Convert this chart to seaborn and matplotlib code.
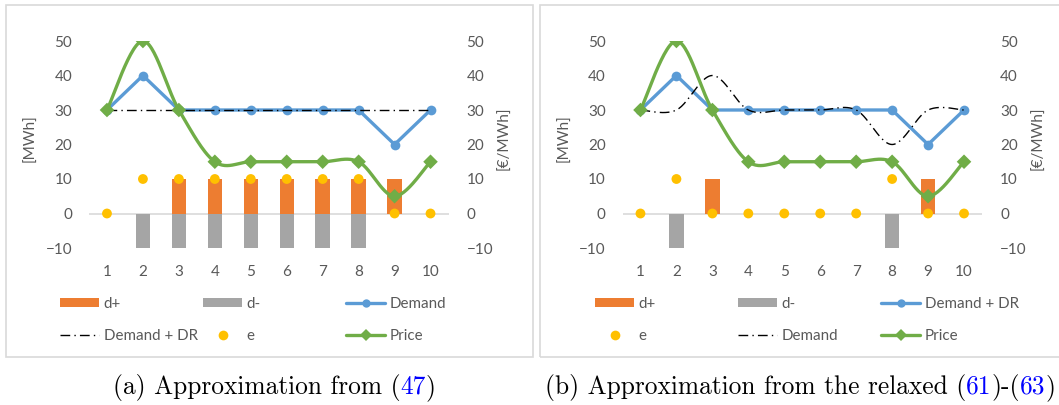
import numpy as np
import matplotlib
matplotlib.use("Agg")
import matplotlib.pyplot as plt
import seaborn as sns
from matplotlib.patches import Rectangle, Patch
from matplotlib.lines import Line2D

# ---------------- data ----------------
hours = [1, 2, 3, 4, 5, 6, 7, 8, 9, 10]

a_dplus = [0, 0, 10, 10, 10, 10, 10, 10, 10, 0]
a_dminus = [0, -10, -10, -10, -10, -10, -10, -10, 0, 0]
a_demand = [30, 40, 30, 30, 30, 30, 30, 30, 20, 30]
a_demand_dr = [30, 30, 30, 30, 30, 30, 30, 30, 30, 30]
a_e = [0, 10, 10, 10, 10, 10, 10, 10, 0, 0]
a_price = [30, 50, 30, 15, 15, 15, 15, 15, 5, 15]

b_dplus = [0, 0, 10, 0, 0, 0, 0, 0, 10, 0]
b_dminus = [0, -10, 0, 0, 0, 0, 0, -10, 0, 0]
b_demand_dr = [30, 40, 30, 30, 30, 30, 30, 30, 20, 30]
b_demand = [30, 30, 40, 30, 30, 30, 30, 20, 30, 30]
b_e = [0, 10, 0, 0, 0, 0, 0, 10, 0, 0]
b_price = [30, 50, 30, 15, 15, 15, 15, 15, 5, 15]

y_ticks = [-10, 0, 10, 20, 30, 40, 50]
captions = [("(a) Approximation from (", "47", ")", None, None),
            ("(b) Approximation from the relaxed (", "61", ")-(", "63", ")")]

# ---------------- style ----------------
sns.set_theme(style="white")
plt.rcParams['font.family'] = ['Lato', 'DejaVu Sans']

C_ORANGE = "#ED7D31"
C_GRAY = "#A5A5A5"
C_BLUE = "#5B9BD5"
C_GOLD = "#FFC000"
C_GREEN = "#70AD47"
C_TEXT = "#595959"
DASHDOT = (0, (7, 3, 1, 3))

W, H = 1059, 405
fig = plt.figure(figsize=(W / 100, H / 100), dpi=100)


def smooth(xs, ys, n=30):
    """Excel-like smoothed line (Catmull-Rom Bezier) through the data points."""
    P = np.column_stack([xs, ys]).astype(float)
    Pe = np.vstack([P[0], P, P[-1]])
    out = []
    for i in range(len(P) - 1):
        p0, p1, p2, p3 = Pe[i], Pe[i + 1], Pe[i + 2], Pe[i + 3]
        c1 = p1 + (p2 - p0) / 6.0
        c2 = p2 - (p3 - p1) / 6.0
        t = np.linspace(0, 1, n)[:, None]
        seg = ((1 - t) ** 3) * p1 + 3 * ((1 - t) ** 2) * t * c1 + 3 * (1 - t) * t ** 2 * c2 + t ** 3 * p2
        out.append(seg if i == 0 else seg[1:])
    seg = np.vstack(out)
    return seg[:, 0], seg[:, 1]


def px_rect(x0, y0, x1, y1):
    return [x0 / W, 1 - y1 / H, (x1 - x0) / W, (y1 - y0) / H]


def panel(ax_left_px, dplus, dminus, blue, black, black_smooth, e, price, labels, leg_x0):
    ax = fig.add_axes(px_rect(ax_left_px, 41, ax_left_px + 359.5, 248))
    sns.barplot(x=hours, y=dplus, native_scale=True, width=0.4, color=C_ORANGE,
                saturation=1, ax=ax, zorder=2, edgecolor="none")
    sns.barplot(x=hours, y=dminus, native_scale=True, width=0.4, color=C_GRAY,
                saturation=1, ax=ax, zorder=2, edgecolor="none")
    ax.axhline(0, color="#D9D9D9", lw=1.2, zorder=1)
    sns.lineplot(x=hours, y=blue, color=C_BLUE, lw=2.4, marker="o", markersize=7,
                 markeredgewidth=0, ax=ax, zorder=3)
    if black_smooth:
        sx, sy = smooth(hours, black)
        ax.plot(sx, sy, color="black", lw=1.0, linestyle=DASHDOT, zorder=4)
    else:
        sns.lineplot(x=hours, y=black, color="black", lw=1.0, linestyle=DASHDOT, ax=ax, zorder=4)
    sns.scatterplot(x=hours, y=e, color=C_GOLD, s=50, edgecolor="none", ax=ax, zorder=5)
    ax.set_xlim(0.5, 10.5)
    ax.set_ylim(-10, 50)
    ax.set_xticks(hours)
    ax.set_yticks(y_ticks)
    ax.tick_params(axis="both", length=0, labelsize=11, colors=C_TEXT, pad=12)
    for s in ax.spines.values():
        s.set_visible(False)
    ax.set_ylabel("[MWh]", fontsize=11, color=C_TEXT)
    ax.yaxis.set_label_coords(-51 / 359.5, 0.53)

    ax2 = ax.twinx()
    sx, sy = smooth(hours, price)
    ax2.plot(sx, sy, color=C_GREEN, lw=2.4, zorder=6)
    sns.scatterplot(x=hours, y=price, color=C_GREEN, marker="D", s=55, edgecolor="none",
                    ax=ax2, zorder=7)
    ax2.set_ylim(-10, 50)
    ax2.set_yticks(y_ticks)
    ax2.tick_params(axis="y", length=0, labelsize=11, colors=C_TEXT, pad=13)
    for s in ax2.spines.values():
        s.set_visible(False)
    ax2.set_ylabel("[€/MWh]", fontsize=11, color=C_TEXT)
    ax2.yaxis.set_label_coords(1 + 49 / 359.5, 0.53)
    ax2.grid(False)
    ax.grid(False)

    # legend: three columns, two rows
    handles = {
        "d+": Patch(facecolor=C_ORANGE, edgecolor="none"),
        "d-": Patch(facecolor=C_GRAY, edgecolor="none"),
        "blue": Line2D([], [], color=C_BLUE, lw=2.4, marker="o", markersize=6, markeredgewidth=0),
        "black": Line2D([], [], color="black", lw=1.0, linestyle=DASHDOT),
        "e": Line2D([], [], color=C_GOLD, lw=0, marker="o", markersize=7, markeredgewidth=0),
        "price": Line2D([], [], color=C_GREEN, lw=2.4, marker="D", markersize=6, markeredgewidth=0),
    }
    for ci, col in enumerate(labels):
        hs = [handles[k] for k, _ in col]
        ls = [t for _, t in col]
        fig.legend(hs, ls, loc="upper left",
                   bbox_to_anchor=((leg_x0 + 143 * ci) / W, 1 - 297 / H),
                   frameon=False, fontsize=10.9, labelcolor=C_TEXT,
                   handlelength=2.6, handleheight=0.6, handletextpad=0.28,
                   labelspacing=1.2, borderpad=0, borderaxespad=0)
    return ax


# panel frames
fig.patches.append(Rectangle((6 / W, 1 - 357 / H), (533 - 6) / W, (357 - 5) / H,
                             transform=fig.transFigure, fill=False, edgecolor="#D9D9D9", lw=1.2))
fig.patches.append(Rectangle((540 / W, 1 - 357 / H), (1065 - 540) / W, (357 - 5) / H,
                             transform=fig.transFigure, fill=False, edgecolor="#D9D9D9", lw=1.2))

panel(89, a_dplus, a_dminus, a_demand, a_demand_dr, False, a_e, a_price,
      [[("d+", "d+"), ("black", "Demand + DR")],
       [("d-", "d-"), ("e", "e")],
       [("blue", "Demand"), ("price", "Price")]], 60)
panel(622.5, b_dplus, b_dminus, b_demand_dr, b_demand, True, b_e, b_price,
      [[("d+", "d+"), ("e", "e")],
       [("d-", "d-"), ("black", "Demand")],
       [("blue", "Demand + DR"), ("price", "Price")]], 595)

# captions with blue references
fig.canvas.draw()
renderer = fig.canvas.get_renderer()
cap_x = [113, 545]
for cx, parts in zip(cap_x, captions):
    x = cx
    for i, p in enumerate(parts):
        if p is None:
            continue
        col = "#0000FF" if i in (1, 3) else "black"
        t = fig.text(x / W, 1 - 394 / H, p, fontsize=18.3, family=["cmr10", "DejaVu Serif"],
                     color=col, ha="left", va="baseline")
        bb = t.get_window_extent(renderer)
        x = bb.x1

fig.savefig("out.png", dpi=100)
